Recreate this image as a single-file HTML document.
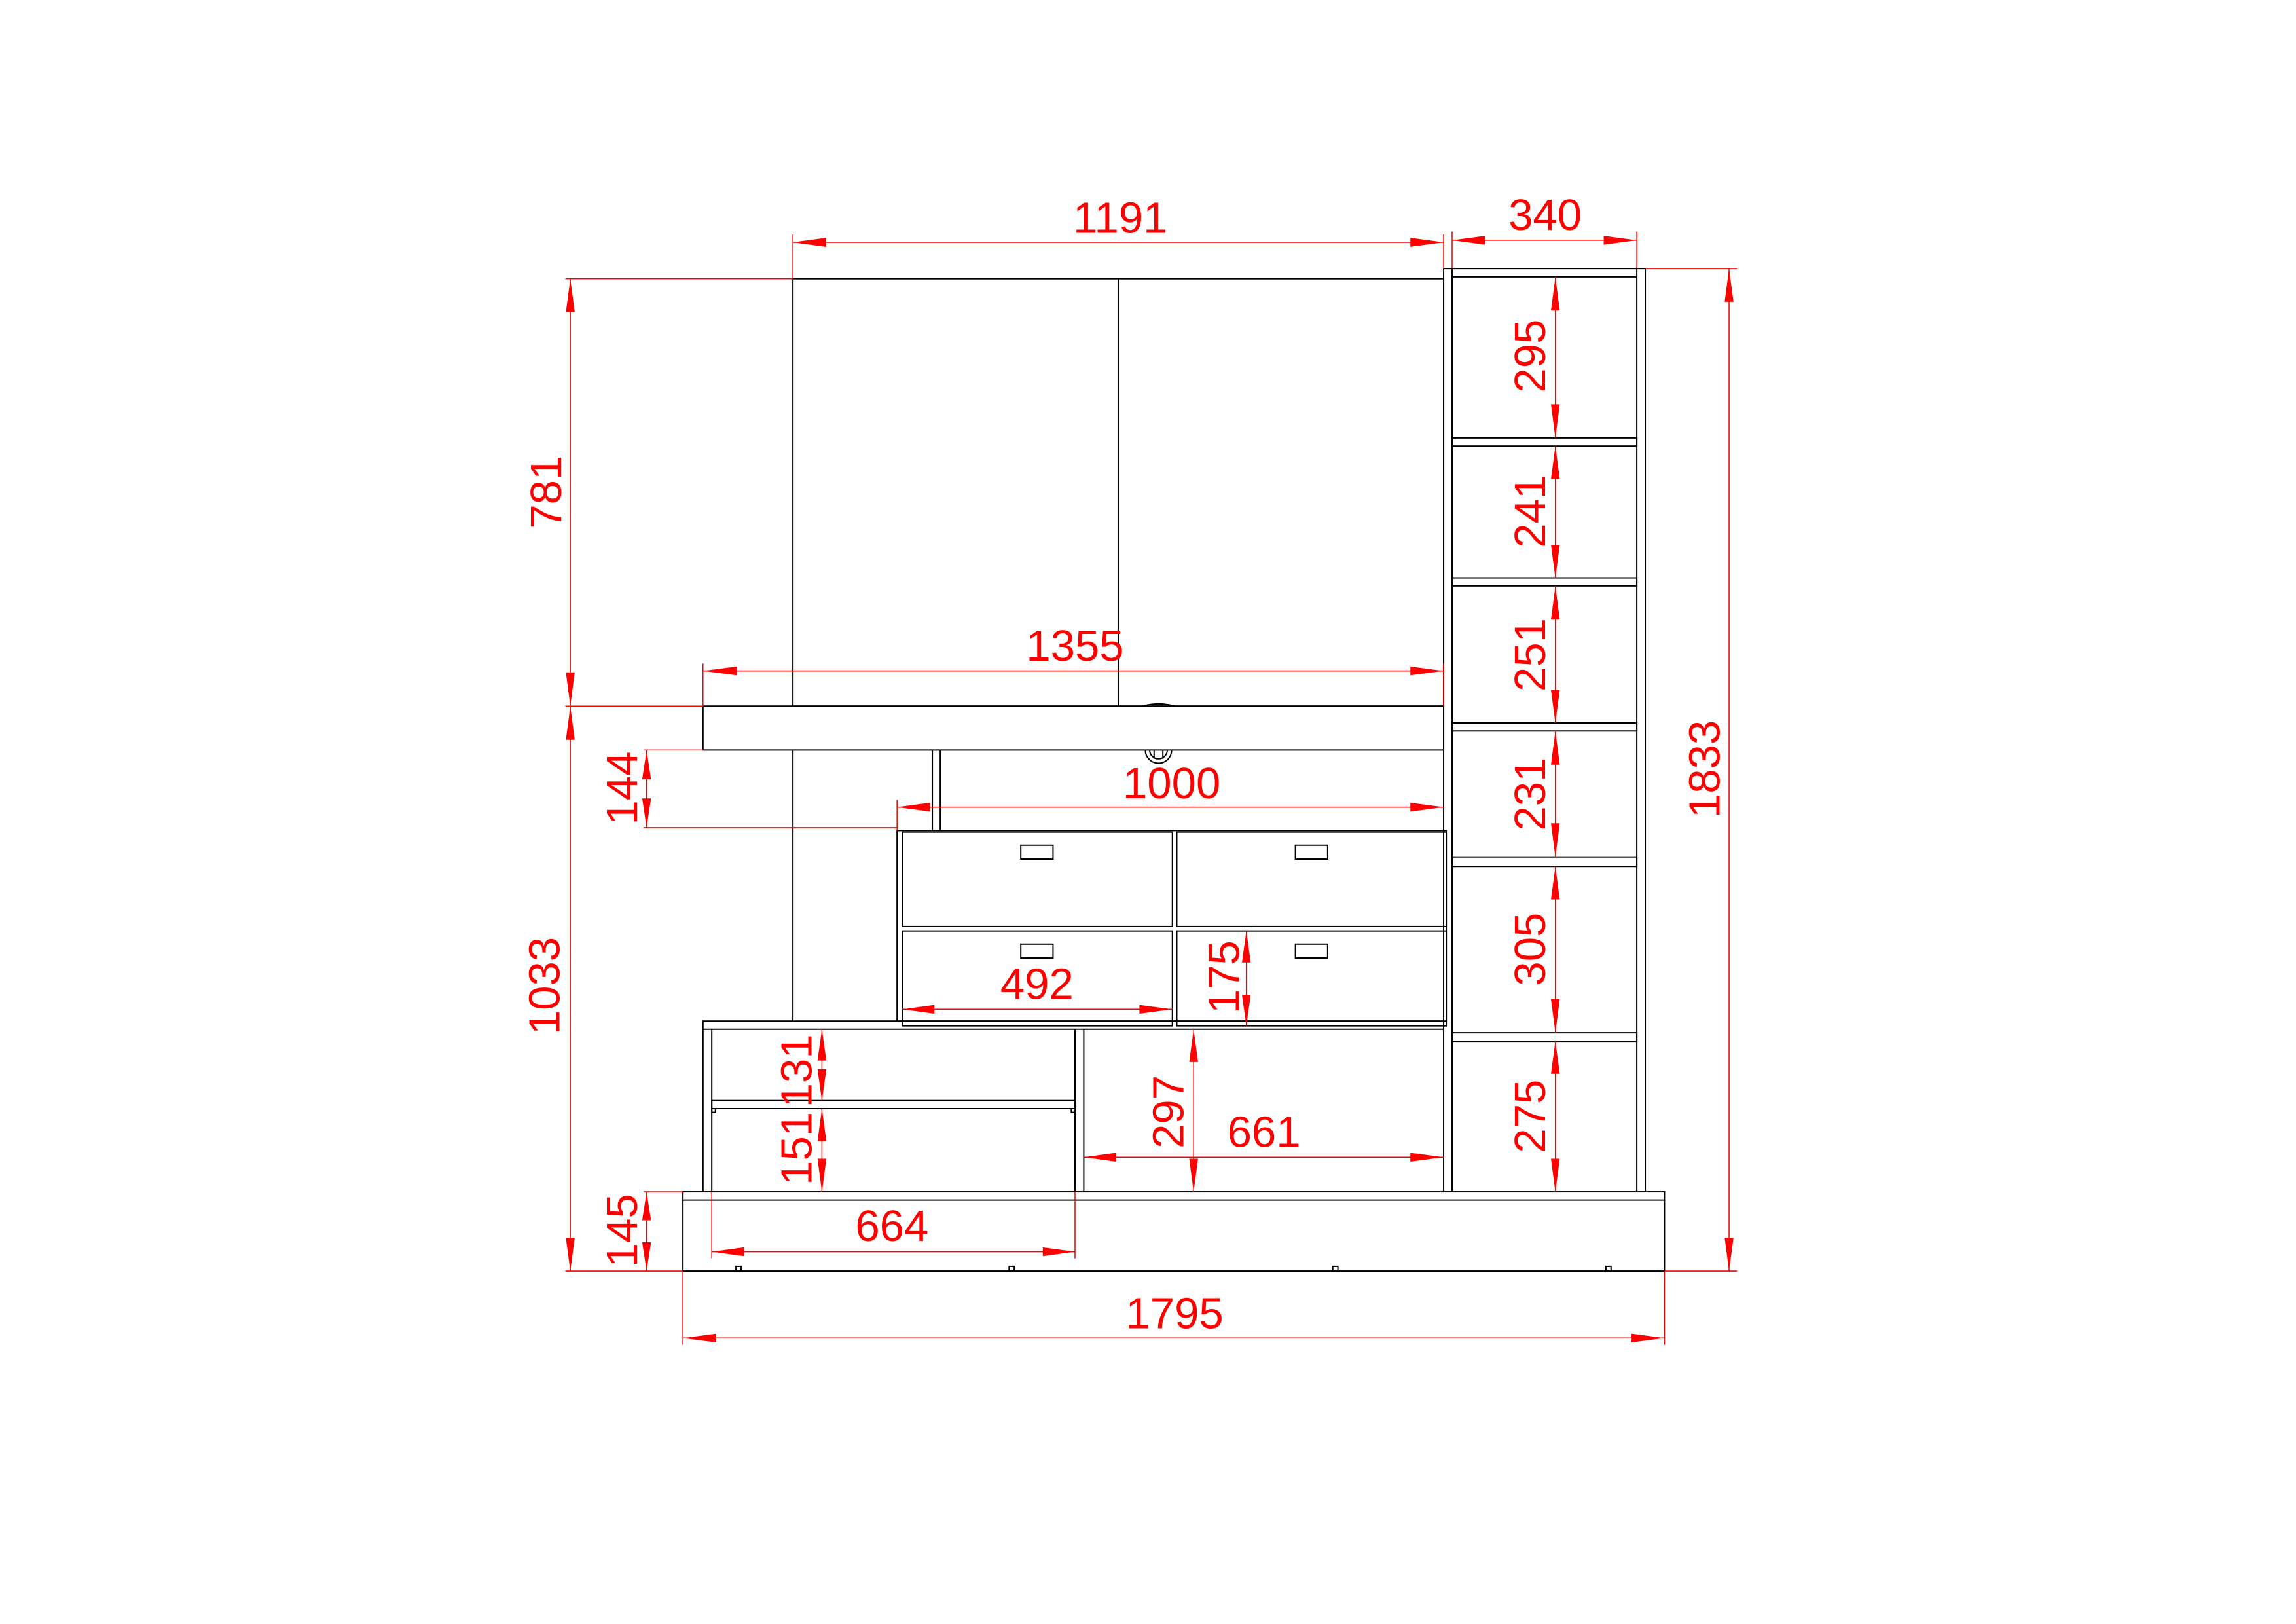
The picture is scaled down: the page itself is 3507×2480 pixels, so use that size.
<!DOCTYPE html>
<html><head><meta charset="utf-8"><style>html,body{margin:0;padding:0;background:#fff}svg{display:block}</style></head><body>
<svg xmlns="http://www.w3.org/2000/svg" width="3507" height="2480" viewBox="0 0 1567.7 1108.6">
<rect x="0" y="0" width="1567.7" height="1108.6" fill="#fff"/>
<g fill="none" stroke="#000" stroke-width="0.9">
<rect x="541.4" y="190.3" width="444.3" height="291.7"/>
<line x1="763.5" y1="190.3" x2="763.5" y2="482"/>
<line x1="541.4" y1="512" x2="541.4" y2="697"/>
<rect x="480" y="482" width="505.7" height="30"/>
<line x1="636.6" y1="512" x2="636.6" y2="567"/>
<line x1="642" y1="512" x2="642" y2="567"/>
<path d="M780 482 Q791 479 802 482"/>
<path d="M782 512 A9 9 0 0 0 800 512 M785 512 A6 6 0 0 0 797 512 M788 512 L788 518 M794 512 L794 518"/>
<rect x="612.5" y="567" width="375" height="130"/>
<rect x="616" y="568" width="184.5" height="64.5"/>
<rect x="803.5" y="568" width="184" height="64.5"/>
<rect x="616" y="635.5" width="184.5" height="64.8"/>
<rect x="803.5" y="635.5" width="184" height="64.8"/>
<rect x="697" y="577" width="22" height="9.5"/>
<rect x="884.5" y="577" width="22" height="9.5"/>
<rect x="697" y="644.5" width="22" height="9.5"/>
<rect x="884.5" y="644.5" width="22" height="9.5"/>
<rect x="480" y="697" width="505.7" height="5.6"/>
<line x1="480" y1="702.6" x2="480" y2="813.6"/>
<line x1="486" y1="702.6" x2="486" y2="813.6"/>
<line x1="734" y1="702.6" x2="734" y2="813.6"/>
<line x1="740" y1="702.6" x2="740" y2="813.6"/>
<rect x="486" y="751.3" width="248" height="5.5"/>
<rect x="486" y="756.8" width="2.5" height="2.5"/>
<rect x="731.5" y="756.8" width="2.5" height="2.5"/>
<line x1="985.7" y1="183.3" x2="985.7" y2="813.6"/>
<line x1="991.5" y1="183.3" x2="991.5" y2="813.6"/>
<line x1="1117.6" y1="183.3" x2="1117.6" y2="813.6"/>
<line x1="1123.4" y1="183.3" x2="1123.4" y2="813.6"/>
<line x1="985.7" y1="183.3" x2="1123.4" y2="183.3"/>
<line x1="991.5" y1="189" x2="1117.6" y2="189"/>
<rect x="991.5" y="299" width="126.1" height="5.5"/>
<rect x="991.5" y="394.5" width="126.1" height="5.5"/>
<rect x="991.5" y="493.5" width="126.1" height="5.5"/>
<rect x="991.5" y="585" width="126.1" height="6.5"/>
<rect x="991.5" y="705" width="126.1" height="5.8"/>
<rect x="466.3" y="813.6" width="670.2" height="54.1"/>
<line x1="466.3" y1="819.2" x2="1136.5" y2="819.2"/>
<rect x="502.5" y="864.5" width="3.5" height="3.2"/>
<rect x="689" y="864.5" width="3.5" height="3.2"/>
<rect x="910" y="864.5" width="3.5" height="3.2"/>
<rect x="1096.5" y="864.5" width="3.5" height="3.2"/>
</g>
<g stroke="#f00" stroke-width="0.7" fill="none">
<line x1="541.4" y1="160" x2="541.4" y2="190"/>
<line x1="985.7" y1="160" x2="985.7" y2="183"/>
<line x1="991.5" y1="158" x2="991.5" y2="183"/>
<line x1="1117.6" y1="158" x2="1117.6" y2="183"/>
<line x1="1123.4" y1="183.3" x2="1186" y2="183.3"/>
<line x1="1136.5" y1="867.7" x2="1186" y2="867.7"/>
<line x1="386" y1="190.3" x2="541.4" y2="190.3"/>
<line x1="386" y1="482" x2="480" y2="482"/>
<line x1="386" y1="867.7" x2="466.3" y2="867.7"/>
<line x1="439.5" y1="512" x2="480" y2="512"/>
<line x1="439.5" y1="565" x2="612.5" y2="565"/>
<line x1="439.5" y1="813.6" x2="466.3" y2="813.6"/>
<line x1="480" y1="453" x2="480" y2="482"/>
<line x1="985.7" y1="453" x2="985.7" y2="482"/>
<line x1="612.5" y1="546" x2="612.5" y2="567"/>
<line x1="466.3" y1="867.7" x2="466.3" y2="918"/>
<line x1="1136.5" y1="867.7" x2="1136.5" y2="918"/>
<line x1="486" y1="813.6" x2="486" y2="859"/>
<line x1="734" y1="813.6" x2="734" y2="859"/>
<line x1="541.4" y1="165.4" x2="985.7" y2="165.4"/>
<line x1="991.5" y1="164" x2="1117.6" y2="164"/>
<line x1="1180.6" y1="183.3" x2="1180.6" y2="867.7"/>
<line x1="389.4" y1="190.3" x2="389.4" y2="482"/>
<line x1="389.4" y1="482" x2="389.4" y2="867.7"/>
<line x1="441.5" y1="512" x2="441.5" y2="565"/>
<line x1="441.5" y1="813.6" x2="441.5" y2="867.7"/>
<line x1="480" y1="458" x2="985.7" y2="458"/>
<line x1="612.5" y1="551" x2="985.7" y2="551"/>
<line x1="616" y1="689" x2="800.5" y2="689"/>
<line x1="851" y1="635.5" x2="851" y2="700.3"/>
<line x1="561.2" y1="702.6" x2="561.2" y2="751.3"/>
<line x1="561.2" y1="756.8" x2="561.2" y2="813.6"/>
<line x1="815" y1="702.6" x2="815" y2="813.6"/>
<line x1="740" y1="790" x2="985.7" y2="790"/>
<line x1="486" y1="854.5" x2="734" y2="854.5"/>
<line x1="466.3" y1="913.4" x2="1136.5" y2="913.4"/>
<line x1="1062" y1="189" x2="1062" y2="299"/>
<line x1="1062" y1="304.5" x2="1062" y2="394.5"/>
<line x1="1062" y1="400" x2="1062" y2="493.5"/>
<line x1="1062" y1="499" x2="1062" y2="585"/>
<line x1="1062" y1="591.5" x2="1062" y2="705"/>
<line x1="1062" y1="710.8" x2="1062" y2="813.6"/>
</g>
<g fill="#f00">
<polygon points="541.4,165.4 564,162.3 564,168.5"/><polygon points="985.7,165.4 963,162.3 963,168.5"/>
<polygon points="991.5,164 1014,161 1014,167"/><polygon points="1117.6,164 1095,161 1095,167"/>
<polygon points="480,458 503,455 503,461"/><polygon points="985.7,458 963,455 963,461"/>
<polygon points="612.5,551 635,548 635,554"/><polygon points="985.7,551 963,548 963,554"/>
<polygon points="616,689 638,686 638,692"/><polygon points="800.5,689 778,686 778,692"/>
<polygon points="740,790 762,787 762,793"/><polygon points="985.7,790 963,787 963,793"/>
<polygon points="486,854.5 508,851.5 508,857.5"/><polygon points="734,854.5 712,851.5 712,857.5"/>
<polygon points="466.3,913.4 489,910.4 489,916.4"/><polygon points="1136.5,913.4 1114,910.4 1114,916.4"/>
<polygon points="1180.6,183.3 1177.6,206 1183.6,206"/><polygon points="1180.6,867.7 1177.6,845 1183.6,845"/>
<polygon points="389.4,190.3 386.4,213 392.4,213"/><polygon points="389.4,482 386.4,459 392.4,459"/>
<polygon points="389.4,482 386.4,505 392.4,505"/><polygon points="389.4,867.7 386.4,845 392.4,845"/>
<polygon points="441.5,512 438.5,532 444.5,532"/><polygon points="441.5,565 438.5,545 444.5,545"/>
<polygon points="441.5,813.6 438.5,833 444.5,833"/><polygon points="441.5,867.7 438.5,848 444.5,848"/>
<polygon points="851,635.5 848,657 854,657"/><polygon points="851,700.3 848,679 854,679"/>
<polygon points="561.2,702.6 558.2,724 564.2,724"/><polygon points="561.2,751.3 558.2,730 564.2,730"/>
<polygon points="561.2,756.8 558.2,779 564.2,779"/><polygon points="561.2,813.6 558.2,791 564.2,791"/>
<polygon points="815,702.6 812,725 818,725"/><polygon points="815,813.6 812,791 818,791"/>
<polygon points="1062,189 1059,212 1065,212"/><polygon points="1062,299 1059,276 1065,276"/>
<polygon points="1062,304.5 1059,327 1065,327"/><polygon points="1062,394.5 1059,372 1065,372"/>
<polygon points="1062,400 1059,423 1065,423"/><polygon points="1062,493.5 1059,471 1065,471"/>
<polygon points="1062,499 1059,522 1065,522"/><polygon points="1062,585 1059,562 1065,562"/>
<polygon points="1062,591.5 1059,614 1065,614"/><polygon points="1062,705 1059,682 1065,682"/>
<polygon points="1062,710.8 1059,733 1065,733"/><polygon points="1062,813.6 1059,791 1065,791"/>
</g>
<g fill="#f00" font-family="'Liberation Sans', sans-serif" font-size="30" text-anchor="middle">
<text x="765" y="159">1191</text>
<text x="1055" y="157">340</text>
<text x="734" y="451">1355</text>
<text x="800" y="545">1000</text>
<text x="708" y="682">492</text>
<text x="863" y="783">661</text>
<text x="609" y="847">664</text>
<text x="802" y="906.7">1795</text>
<text transform="translate(383,336) rotate(-90)">781</text>
<text transform="translate(382,673) rotate(-90)">1033</text>
<text transform="translate(435,538) rotate(-90)">144</text>
<text transform="translate(435,840) rotate(-90)">145</text>
<text transform="translate(1174,525) rotate(-90)">1833</text>
<text transform="translate(1055,243) rotate(-90)">295</text>
<text transform="translate(1055,349) rotate(-90)">241</text>
<text transform="translate(1055,447) rotate(-90)">251</text>
<text transform="translate(1055,542) rotate(-90)">231</text>
<text transform="translate(1055,648) rotate(-90)">305</text>
<text transform="translate(1055,762) rotate(-90)">275</text>
<text transform="translate(554,731) rotate(-90)">131</text>
<text transform="translate(554,784) rotate(-90)">151</text>
<text transform="translate(808,759) rotate(-90)">297</text>
<text transform="translate(846,667) rotate(-90)">175</text>
</g>
</svg>
</body></html>
